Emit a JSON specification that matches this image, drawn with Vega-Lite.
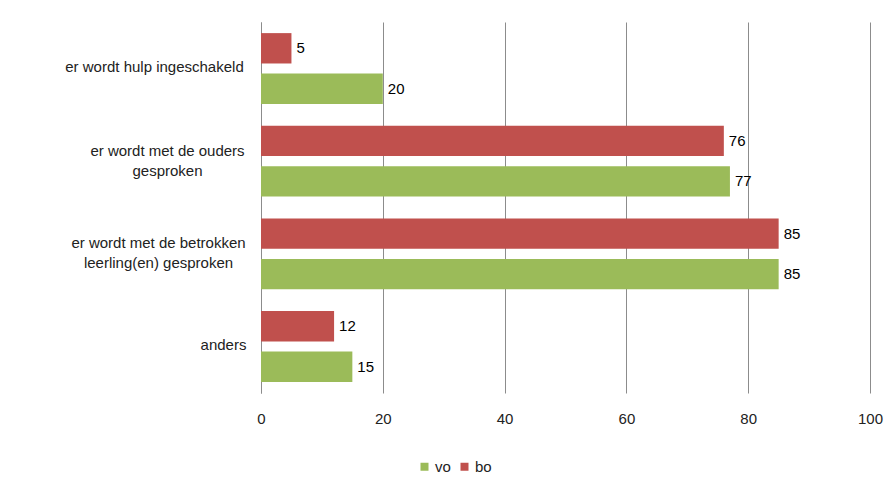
{
  "$schema": "https://vega.github.io/schema/vega-lite/v6.json",
  "autosize": "none",
  "width": 609,
  "height": 371,
  "padding": {"left": 261, "top": 22, "right": 18, "bottom": 90},
  "background": "white",
  "config": {
    "view": {"stroke": null},
    "font": "Liberation Sans",
    "axis": {"labelFont": "Liberation Sans", "labelFontSize": 15, "labelColor": "#222222"}
  },
  "data": {
    "values": [
      {"categorie": "er wordt hulp ingeschakeld", "groep": "bo", "waarde": 5},
      {"categorie": "er wordt hulp ingeschakeld", "groep": "vo", "waarde": 20},
      {"categorie": "er wordt met de ouders gesproken", "groep": "bo", "waarde": 76},
      {"categorie": "er wordt met de ouders gesproken", "groep": "vo", "waarde": 77},
      {"categorie": "er wordt met de betrokken leerling(en) gesproken", "groep": "bo", "waarde": 85},
      {"categorie": "er wordt met de betrokken leerling(en) gesproken", "groep": "vo", "waarde": 85},
      {"categorie": "anders", "groep": "bo", "waarde": 12},
      {"categorie": "anders", "groep": "vo", "waarde": 15}
    ]
  },
  "encoding": {
    "y": {
      "field": "categorie",
      "type": "nominal",
      "sort": ["er wordt hulp ingeschakeld", "er wordt met de ouders gesproken", "er wordt met de betrokken leerling(en) gesproken", "anders"],
      "scale": {"paddingInner": 0.235, "paddingOuter": 0.12},
      "axis": {
        "title": null,
        "ticks": false,
        "domainColor": "#8c8c8c",
        "labelAlign": "center",
        "labelBaseline": "middle",
        "labelLineHeight": 20,
        "labelOffset": {"expr": "datum.value == 'anders' || datum.value == 'er wordt hulp ingeschakeld' ? -1.5 : -10.5"},
        "labelPadding": {"expr": "datum.value == 'anders' ? 38 : datum.value == 'er wordt hulp ingeschakeld' ? 107 : datum.value == 'er wordt met de ouders gesproken' ? 94 : 103"},
        "labelExpr": "datum.value == 'er wordt met de ouders gesproken' ? ['er wordt met de ouders', 'gesproken'] : datum.value == 'er wordt met de betrokken leerling(en) gesproken' ? ['er wordt met de betrokken', 'leerling(en) gesproken'] : datum.value"
      }
    },
    "yOffset": {"field": "groep", "type": "nominal", "sort": ["bo", "vo"], "scale": {"paddingInner": 0.25}},
    "x": {
      "field": "waarde",
      "type": "quantitative",
      "scale": {"domain": [0, 100]},
      "axis": {
        "title": null,
        "values": [0, 20, 40, 60, 80, 100],
        "grid": true,
        "gridColor": "#8c8c8c",
        "domain": false,
        "ticks": false,
        "labelOverlap": false,
        "labelFlush": false,
        "labelPadding": 18
      }
    }
  },
  "layer": [
    {
      "mark": {"type": "bar"},
      "encoding": {
        "color": {
          "field": "groep",
          "type": "nominal",
          "scale": {"domain": ["vo", "bo"], "range": ["#9BBB59", "#C0504D"]},
          "legend": {
            "title": null,
            "orient": "none",
            "direction": "horizontal",
            "legendX": 156,
            "legendY": 437,
            "symbolType": "square",
            "symbolSize": 64,
            "labelFontSize": 15,
            "labelFont": "Liberation Sans",
            "labelColor": "#222222",
            "labelOffset": 3,
            "columnPadding": 6
          }
        }
      }
    },
    {
      "mark": {"type": "text", "align": "left", "baseline": "middle", "dx": 5, "fontSize": 15, "font": "Liberation Sans", "color": "#000000"},
      "encoding": {"text": {"field": "waarde", "type": "quantitative"}}
    }
  ]
}
